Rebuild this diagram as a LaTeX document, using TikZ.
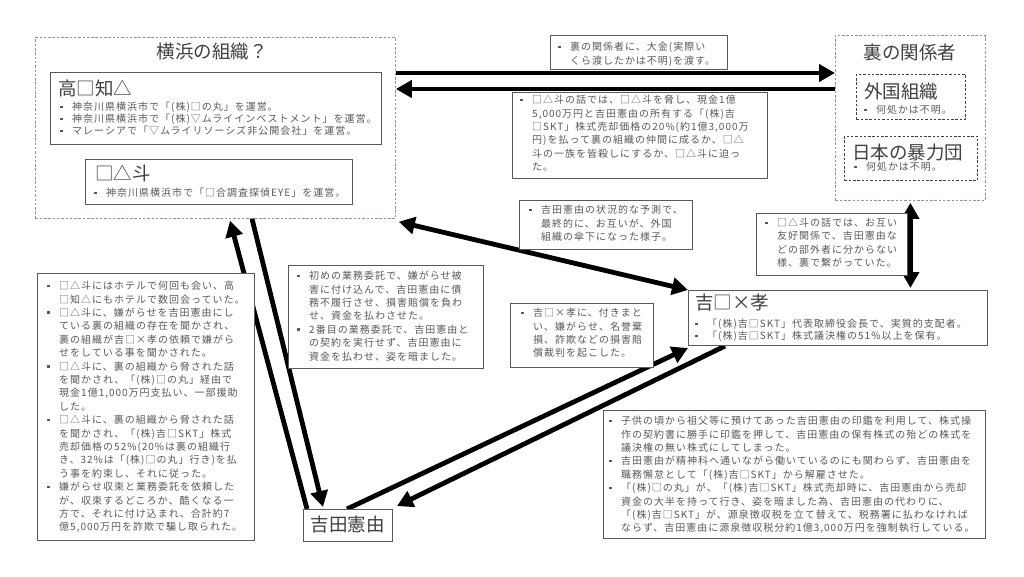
\documentclass[tikz,border=0pt]{standalone}
\usepackage{fontspec}
\setmainfont{Noto Sans CJK JP}
\newfontfamily\jpsp[LetterSpace=10]{Noto Sans CJK JP}
\usetikzlibrary{arrows.meta,backgrounds}
\definecolor{txtc}{HTML}{595959}
\definecolor{ttlc}{HTML}{404040}
\definecolor{bordc}{HTML}{595959}
\definecolor{dashc}{HTML}{8497B0}
\newcommand\bulletpt{\makebox[12pt][l]{\raisebox{2.4pt}{\rule{2.6pt}{2.6pt}}}}
\newcommand\contpt{\hspace*{12pt}}
\tikzset{
  box/.style={draw=bordc, line width=1pt, fill=white, inner sep=0pt, anchor=north west},
  outerbox/.style={draw=dashc, line width=0.8pt, dash pattern=on 2.5pt off 1.8pt, inner sep=0pt, anchor=north west},
  innerbox/.style={draw=black!75, line width=0.8pt, dash pattern=on 2.5pt off 1.8pt, fill=white, inner sep=0pt, anchor=north west},
  txt/.style={anchor=north west, inner sep=0pt, align=left, text=txtc, font=\jpsp\fontsize{10}{13.4}\selectfont},
  ttl/.style={inner sep=0pt, text=ttlc, font=\fontsize{18.5}{20}\selectfont},
  arr/.style={draw=black, line width=4.8pt, -{Triangle[length=16pt,width=17pt]}},
  darr/.style={draw=black, line width=4.8pt, {Triangle[length=16pt,width=17pt]}-{Triangle[length=16pt,width=17pt]}}
}
\begin{document}
\begin{tikzpicture}[x=1pt,y=-1pt]
\useasboundingbox (0,0) rectangle (1024,576);

% ---- groups
\node[outerbox, minimum width=360pt, minimum height=181pt] (yoko) at (35,37) {};
\node[ttl] (yokot) at (212,52) {横浜の組織？};
\node[box, minimum width=331pt, minimum height=72pt] (taka) at (50,72) {};
\node[ttl, anchor=west] (takat) at (58,88) {高□知△};
\node[txt, font=\jpsp\fontsize{10}{12}\selectfont] (takatx) at (60,102) {%
\bulletpt 神奈川県横浜市で「(株)□の丸」を運営。\\
\bulletpt 神奈川県横浜市で「(株)▽ムライインベストメント」を運営。\\
\bulletpt マレーシアで「▽ムライリソーシズ非公開会社」を運営。};
\node[box, minimum width=267pt, minimum height=45pt] (sato) at (85,159) {};
\node[ttl, anchor=west] (satot) at (95,173) {□△斗};
\node[txt] (satotx) at (94,188) {\bulletpt 神奈川県横浜市で「□合調査探偵EYE」を運営。};

\node[outerbox, minimum width=150pt, minimum height=165pt] (ura) at (835,35) {};
\node[ttl] (urat) at (910,52) {裏の関係者};
\node[innerbox, minimum width=109pt, minimum height=45pt] (gai) at (856,74) {};
\node[ttl, anchor=west] (gait) at (864,92) {外国組織};
\node[txt] (gaitx) at (864,105) {\bulletpt 何処かは不明。};
\node[innerbox, minimum width=133pt, minimum height=44pt] (bor) at (844,136) {};
\node[ttl, anchor=west] (bort) at (852,153) {日本の暴力団};
\node[txt] (bortx) at (854,162) {\bulletpt 何処かは不明。};

% ---- arrows (background)
\node[box, minimum width=299pt, minimum height=55pt] (kichi) at (688,290) {};
\node[box, minimum width=89pt, minimum height=32pt] (yoshi) at (303,509) {};
\begin{scope}[on background layer]
\fill[white] (0,0) rectangle (1024,576);
\draw[arr] ([yshift=-36pt]yoko.north east) -- ([yshift=-38pt]ura.north west);
\draw[arr] ([yshift=-54pt]ura.north west) -- ([yshift=-52pt]yoko.north east);
\draw[darr] ([shift={(3pt,-3pt)}]yoko.south east) -- (kichi.north west);
\draw[darr] ([yshift=-2pt]ura.south) -- ([yshift=2pt]ura.south |- kichi.north);
\draw[arr] ([xshift=4pt]yoshi.north west) -- ([xshift=195pt,yshift=-2pt]yoko.south west);
\draw[arr] ([xshift=217pt]yoko.south west) -- ([xshift=20pt,yshift=2pt]yoshi.north west);
\draw[arr] ([xshift=44pt]yoshi.north west) -- ([yshift=-2pt]kichi.south west);
\draw[arr] ([xshift=37pt]kichi.south west) -- ([xshift=4pt,yshift=3pt]yoshi.north east);
\end{scope}

% ---- notes
\node[box, minimum width=177pt, minimum height=34pt] (n1) at (550,35) {};
\node[txt] (n1t) at (558,42) {\bulletpt 裏の関係者に、大金(実際い\\\contpt くら渡したかは不明)を渡す。};
\node[box, minimum width=255pt, minimum height=86pt] (n2) at (512,92) {};
\node[txt] (n2t) at (520,95) {\bulletpt □△斗の話では、□△斗を脅し、現金1億\\
\contpt 5,000万円と吉田憲由の所有する「(株)吉\\
\contpt □SKT」株式売却価格の20\%(約1億3,000万\\
\contpt 円)を払って裏の組織の仲間に成るか、□△\\
\contpt 斗の一族を皆殺しにするか、□△斗に迫っ\\
\contpt た。};
\node[box, minimum width=173pt, minimum height=49pt] (n3) at (519,200) {};
\node[txt] (n3t) at (529,205) {\bulletpt 吉田憲由の状況的な予測で、\\
\contpt 最終的に、お互いが、外国\\
\contpt 組織の傘下になった様子。};
\node[box, minimum width=151pt, minimum height=62pt] (n4) at (756,213) {};
\node[txt] (n4t) at (765,218) {\bulletpt □△斗の話では、お互い\\
\contpt 友好関係で、吉田憲由な\\
\contpt どの部外者に分からない\\
\contpt 様、裏で繋がっていた。};

\node[ttl, anchor=west] (kichit) at (695,303) {吉□×孝};
\node[txt, font=\jpsp\fontsize{10}{12}\selectfont] (kichitx) at (695,319) {%
\bulletpt 「(株)吉□SKT」代表取締役会長で、実質的支配者。\\
\bulletpt 「(株)吉□SKT」株式議決権の51\%以上を保有。};

\node[box, minimum width=217pt, minimum height=267pt] (left) at (37,273) {};
\node[txt] (leftt) at (47,281) {%
\bulletpt □△斗にはホテルで何回も会い、高\\
\contpt □知△にもホテルで数回会っていた。\\
\bulletpt □△斗に、嫌がらせを吉田憲由にし\\
\contpt ている裏の組織の存在を聞かされ、\\
\contpt 裏の組織が吉□×孝の依頼で嫌がら\\
\contpt せをしている事を聞かされた。\\
\bulletpt □△斗に、裏の組織から脅された話\\
\contpt を聞かされ、「(株)□の丸」経由で\\
\contpt 現金1億1,000万円支払い、一部援助\\
\contpt した。\\
\bulletpt □△斗に、裏の組織から脅された話\\
\contpt を聞かされ、「(株)吉□SKT」株式\\
\contpt 売却価格の52\%(20\%は裏の組織行\\
\contpt き、32\%は「(株)□の丸」行き)を払\\
\contpt う事を約束し、それに従った。\\
\bulletpt 嫌がらせ収束と業務委託を依頼した\\
\contpt が、収束するどころか、酷くなる一\\
\contpt 方で、それに付け込まれ、合計約7\\
\contpt 億5,000万円を詐欺で騙し取られた。};

\node[box, minimum width=195pt, minimum height=103pt] (n5) at (288,265) {};
\node[txt] (n5t) at (297,271) {%
\bulletpt 初めの業務委託で、嫌がらせ被\\
\contpt 害に付け込んで、吉田憲由に債\\
\contpt 務不履行させ、損害賠償を負わ\\
\contpt せ、資金を払わさせた。\\
\bulletpt 2番目の業務委託で、吉田憲由と\\
\contpt の契約を実行せず、吉田憲由に\\
\contpt 資金を払わせ、姿を暗ました。};

\node[box, minimum width=143pt, minimum height=64pt] (n6) at (510,303) {};
\node[txt] (n6t) at (521,308) {%
\bulletpt 吉□×孝に、付きまと\\
\contpt い、嫌がらせ、名誉棄\\
\contpt 損、詐欺などの損害賠\\
\contpt 償裁判を起こした。};

\node[box, minimum width=382pt, minimum height=128pt] (n7) at (603,410) {};
\node[txt] (n7t) at (609,416) {%
\bulletpt 子供の頃から祖父等に預けてあった吉田憲由の印鑑を利用して、株式操\\
\contpt 作の契約書に勝手に印鑑を押して、吉田憲由の保有株式の殆どの株式を\\
\contpt 議決権の無い株式にしてしまった。\\
\bulletpt 吉田憲由が精神科へ通いながら働いているのにも関わらず、吉田憲由を\\
\contpt 職務懈怠として「(株)吉□SKT」から解雇させた。\\
\bulletpt 「(株)□の丸」が、「(株)吉□SKT」株式売却時に、吉田憲由から売却\\
\contpt 資金の大半を持って行き、姿を暗ました為、吉田憲由の代わりに、\\
\contpt 「(株)吉□SKT」が、源泉徴収税を立て替えて、税務署に払わなければ\\
\contpt ならず、吉田憲由に源泉徴収税分約1億3,000万円を強制執行している。};

\node[ttl] (yoshit) at (347.5,525) {吉田憲由};
\end{tikzpicture}
\end{document}
